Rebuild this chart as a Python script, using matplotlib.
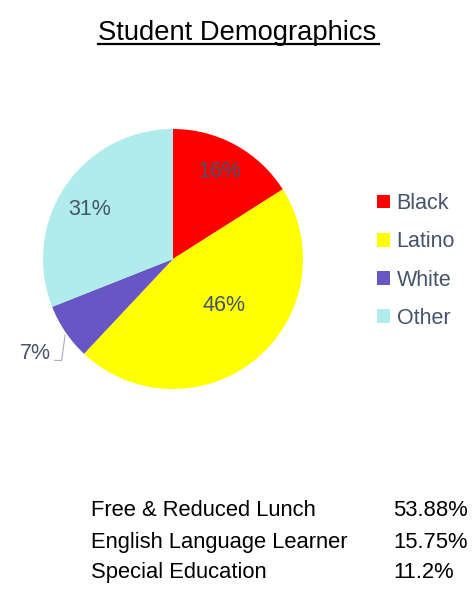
import matplotlib
matplotlib.use("Agg")
import matplotlib.pyplot as plt
from matplotlib.patches import Patch

plt.rcParams['font.family'] = ['Liberation Sans', 'DejaVu Sans']

# data
groups = ["Black", "Latino", "White", "Other"]
shares = [16, 46, 7, 31]
colors = ["#FF0000", "#FFFF00", "#6856C4", "#B1ECED"]

stat_names = ["Free & Reduced Lunch", "English Language Learner", "Special Education"]
stat_values = ["53.88%", "15.75%", "11.2%"]

W, H = 474, 592
fig = plt.figure(figsize=(W / 100, H / 100), dpi=100)

# pie centred at (173, 259) px, radius 130 px
cx, cy, r = 173, 259, 130
ax = fig.add_axes([(cx - r) / W, (H - cy - r) / H, 2 * r / W, 2 * r / H])
wedges, texts, autotexts = ax.pie(shares, colors=colors, startangle=90, counterclock=False,
                                  autopct="%d%%", pctdistance=0.75,
                                  textprops=dict(fontsize=15.5, color="#44546A"))
ax.set_xlim(-1, 1)
ax.set_ylim(-1, 1)
ax.set_aspect("equal")
ax.axis("off")

# nudge labels to where excel put them
label_pos = [(0.36, 0.67), (0.39, -0.36), (-0.94, -0.73), (-0.64, 0.38)]
for t, p in zip(autotexts, label_pos):
    t.set_position(p)
autotexts[2].set_ha("right")
ax.plot([-0.83, -0.855, -0.855, -0.91], [-0.585, -0.77, -0.78, -0.78],
        color="#A6AEBB", lw=0.8, clip_on=False)

# title with underline
title = fig.text(0.5, 1 - 40 / H, "Student Demographics", ha="center", va="baseline",
                 fontsize=19.7, color="black")
fig.canvas.draw()
bb = title.get_window_extent()
fig.add_artist(plt.Line2D([bb.x0 / W, (bb.x1 + 3) / W], [(H - 44) / H, (H - 44) / H],
                          color="black", lw=1.6, transform=fig.transFigure))

# legend
handles = [Patch(facecolor=c, edgecolor="none") for c in colors]
leg = fig.legend(handles, groups, loc="center left", bbox_to_anchor=(358 / W, 1 - 261 / H),
                 frameon=False, fontsize=15.5, labelcolor="#44546A",
                 handlelength=0.6, handleheight=0.6, handletextpad=0.3, labelspacing=0.8)

# summary table
row_base = [516, 548, 578]
for name, val, y in zip(stat_names, stat_values, row_base):
    fig.text(91 / W, 1 - y / H, name, ha="left", va="baseline", fontsize=15.8, color="black")
    fig.text(393 / W, 1 - y / H, val, ha="left", va="baseline", fontsize=15.8, color="black")

fig.savefig("out.png", dpi=100)
